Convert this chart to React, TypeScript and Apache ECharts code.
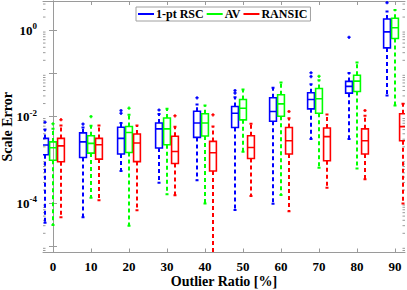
import React, { useEffect, useRef } from 'react';
import * as echarts from 'echarts';

// ---------- data ----------
const categories = [0, 10, 20, 30, 40, 50, 60, 70, 80, 90];
const yLabelExponents = [-4, -2, 0];
const seriesNames = ['1-pt RSC', 'AV', 'RANSIC'];

// each row: [lower whisker, Q1, median, Q3, upper whisker]
const rscBoxes = [
  [3.5e-5, 1.31e-3, 2.2e-3, 3.13e-3, 5.0e-3],
  [4.7e-5, 1.13e-3, 2.6e-3, 4.2e-3, 5.6e-3],
  [5.5e-4, 1.36e-3, 3.13e-3, 5.65e-3, 7.1e-3],
  [2.97e-4, 1.87e-3, 5.2e-3, 7.1e-3, 1.15e-2],
  [3.37e-4, 3.3e-3, 7.1e-3, 1.33e-2, 1.9e-2],
  [6.9e-5, 5.6e-3, 1.19e-2, 1.71e-2, 2.8e-2],
  [9.6e-5, 7.8e-3, 1.31e-2, 2.72e-2, 4.65e-2],
  [3.03e-3, 1.51e-2, 2.48e-2, 3.56e-2, 5.6e-2],
  [3.03e-3, 3.48e-2, 4.99e-2, 6.5e-2, 1.02e-1],
  [3.08e-2, 0.387, 0.91, 1.8, 2.67],
];
const avBoxes = [
  [3.1e-5, 9.8e-4, 1.9e-3, 2.6e-3, 5.2e-3],
  [1.33e-4, 1.43e-3, 2.4e-3, 3.6e-3, 6.1e-3],
  [3.0e-5, 1.48e-3, 4.3e-3, 5.9e-3, 1.1e-2],
  [1.6e-4, 2.23e-3, 5.2e-3, 9.3e-3, 1.51e-2],
  [9.8e-5, 3.56e-3, 7.1e-3, 1.16e-2, 1.8e-2],
  [1.53e-3, 8.4e-3, 1.56e-2, 2.48e-2, 4.2e-2],
  [1.53e-4, 1.02e-2, 1.97e-2, 3.2e-2, 6.1e-2],
  [6.6e-4, 1.19e-2, 2.58e-2, 4.45e-2, 6.9e-2],
  [6.3e-4, 3.81e-2, 6.6e-2, 9.0e-2, 0.177],
  [1.8e-2, 0.64, 1.13, 1.87, 2.92],
];
const ransicBoxes = [
  [4.7e-5, 9.0e-4, 2.1e-3, 3.13e-3, 6.2e-3],
  [1.17e-4, 1.04e-3, 2.23e-3, 3.13e-3, 6.2e-3],
  [6.8e-5, 9.1e-4, 2.44e-3, 3.96e-3, 6.2e-3],
  [1.51e-4, 8.2e-4, 1.56e-3, 3.5e-3, 5.8e-3],
  [3.0e-6, 5.5e-4, 1.46e-3, 2.67e-3, 5.9e-3],
  [1.46e-4, 1.07e-3, 1.93e-3, 3.6e-3, 6.8e-3],
  [6.5e-5, 1.36e-3, 2.77e-3, 5.6e-3, 9.2e-3],
  [2.27e-4, 9.5e-4, 3.43e-3, 5.46e-3, 1.11e-2],
  [3.56e-4, 1.36e-3, 2.77e-3, 5.2e-3, 1.05e-2],
  [9.8e-5, 2.77e-3, 5.85e-3, 1.16e-2, 1.97e-2],
];

// [category, value]
const rscOutliers = [
  [0, 7.4e-3], [10, 6.7e-3], [20, 1.38e-2], [20, 1.19e-2], [30, 1.42e-2],
  [40, 2.72e-2], [50, 4.0e-2], [50, 3.5e-2], [70, 0.103], [70, 8.4e-2],
  [80, 0.68], [90, 4.3],
];
const avOutliers = [
  [0, 6.8e-3], [10, 1.0e-2], [20, 1.56e-2], [70, 8.5e-2],
];
const ransicOutliers = [
  [0, 8.5e-3], [30, 1.04e-2], [40, 1.1e-2], [60, 1.31e-2], [80, 1.38e-2],
];

// ---------- styling ----------
const colors = ['#0000ff', '#00ff00', '#ff0000'];
const groupOffsets = [-2.1, 0, 2.1];
const FONT = '"Liberation Serif", "Times New Roman", serif';
const AXIS_COLOR = '#9a9a9a';
const X_MIN = -2.63;
const X_MAX = 92.63;
const Y_MIN = 7.2e-6;
const Y_MAX = 4.7;
const minorMultipliers = [2, 3, 4, 5, 6, 7, 8, 9];
const minorDecades = [-6, -5, -4, -3, -2, -1, 0];

function boxRenderer(color: string, offset: number) {
  return (params: any, api: any) => {
    const x = api.value(0) + offset;
    const pl = api.coord([x, api.value(1)]);
    const p1 = api.coord([x, api.value(2)]);
    const pm = api.coord([x, api.value(3)]);
    const p3 = api.coord([x, api.value(4)]);
    const ph = api.coord([x, api.value(5)]);
    const cx = pl[0];
    const hw = 3.4;
    const cap = 1.5;
    const dashed = { stroke: color, lineWidth: 2, lineDash: [4, 3], fill: null };
    const solid = { stroke: color, lineWidth: 1.6, fill: null };
    return {
      type: 'group',
      children: [
        { type: 'line', shape: { x1: cx, y1: p3[1], x2: cx, y2: ph[1] }, style: dashed },
        { type: 'line', shape: { x1: cx, y1: p1[1], x2: cx, y2: pl[1] }, style: dashed },
        { type: 'line', shape: { x1: cx - cap, y1: ph[1], x2: cx + cap, y2: ph[1] }, style: { ...solid, lineWidth: 2 } },
        { type: 'line', shape: { x1: cx - cap, y1: pl[1], x2: cx + cap, y2: pl[1] }, style: { ...solid, lineWidth: 2 } },
        {
          type: 'rect',
          shape: { x: cx - hw, y: p3[1], width: 2 * hw, height: p1[1] - p3[1] },
          style: { stroke: color, lineWidth: 1.6, fill: 'none' },
        },
        { type: 'line', shape: { x1: cx - hw, y1: pm[1], x2: cx + hw, y2: pm[1] }, style: solid },
      ],
    };
  };
}

function outlierRenderer(color: string, offset: number) {
  return (params: any, api: any) => {
    const p = api.coord([api.value(0) + offset, api.value(1)]);
    const s = 1.6;
    const st = { stroke: color, lineWidth: 1.5, fill: null };
    return {
      type: 'group',
      children: [
        { type: 'line', shape: { x1: p[0] - s, y1: p[1], x2: p[0] + s, y2: p[1] }, style: st },
        { type: 'line', shape: { x1: p[0], y1: p[1] - s, x2: p[0], y2: p[1] + s }, style: st },
      ],
    };
  };
}

function minorTickRenderer(params: any, api: any) {
  const p = api.coord([0, api.value(0)]);
  const cs = params.coordSys;
  const len = 2.5;
  const st = { stroke: AXIS_COLOR, lineWidth: 1, fill: null };
  return {
    type: 'group',
    children: [
      { type: 'line', shape: { x1: cs.x, y1: p[1], x2: cs.x + len, y2: p[1] }, style: st },
      { type: 'line', shape: { x1: cs.x + cs.width, y1: p[1], x2: cs.x + cs.width - len, y2: p[1] }, style: st },
    ],
  };
}

function yLabel(value: number) {
  const e = Math.log10(value);
  const r = Math.round(e);
  if (Math.abs(e - r) > 1e-6) return '';
  if (yLabelExponents.indexOf(r) < 0) return '';
  return '{b|10}{s|' + r + '}';
}

export default function App() {
  const ref = useRef<HTMLDivElement>(null);
  useEffect(() => {
    const chart = echarts.init(ref.current as HTMLDivElement, null, { renderer: 'svg' });

    const minorValues: number[][] = [];
    minorDecades.forEach((d) => {
      minorMultipliers.forEach((m) => {
        const v = m * Math.pow(10, d);
        if (v > Y_MIN && v < Y_MAX) minorValues.push([v]);
      });
    });

    const boxSets = [rscBoxes, avBoxes, ransicBoxes];
    const outSets = [rscOutliers, avOutliers, ransicOutliers];

    const series: any[] = [];
    seriesNames.forEach((name, i) => {
      series.push({
        type: 'custom',
        name,
        clip: true,
        itemStyle: { color: colors[i] },
        renderItem: boxRenderer(colors[i], groupOffsets[i]),
        encode: { x: 0, y: [1, 2, 3, 4, 5] },
        data: boxSets[i].map((b, k) => [categories[k], ...b]),
        z: 3,
      });
    });
    seriesNames.forEach((name, i) => {
      series.push({
        type: 'custom',
        name,
        clip: true,
        itemStyle: { color: colors[i] },
        renderItem: outlierRenderer(colors[i], groupOffsets[i]),
        encode: { x: 0, y: 1 },
        data: outSets[i],
        z: 3,
      });
    });
    series.push({
      type: 'custom',
      name: 'minor',
      silent: true,
      renderItem: minorTickRenderer,
      encode: { y: 0 },
      data: minorValues,
      z: 1,
    });

    const axisLine = { show: true, lineStyle: { color: AXIS_COLOR, width: 1 } };

    chart.setOption({
      animation: false,
      backgroundColor: '#ffffff',
      grid: { left: 43, right: 2, top: 1, bottom: 37.5, outerBoundsMode: 'none', containLabel: false },
      legend: {
        data: seriesNames.map((n, i) => ({ name: n, itemStyle: { color: colors[i] } })),
        left: 136,
        top: 7,
        orient: 'horizontal',
        icon: 'rect',
        itemWidth: 16,
        itemHeight: 2,
        itemGap: 3,
        padding: [1, 3, 1, 2],
        borderColor: '#a0a0a0',
        borderWidth: 1,
        borderRadius: 0,
        backgroundColor: '#ffffff',
        selectedMode: false,
        textStyle: { fontFamily: FONT, fontWeight: 'bold', fontSize: 12, color: '#000', padding: [0, 0, 0, -3] },
        z: 10,
      },
      xAxis: [
        {
          type: 'value',
          min: X_MIN,
          max: X_MAX,
          position: 'bottom',
          name: 'Outlier Ratio [%]',
          nameLocation: 'middle',
          nameGap: 22,
          nameMoveOverlap: false,
          nameTextStyle: { fontFamily: FONT, fontWeight: 'bold', fontSize: 14, color: '#000' },
          axisLine,
          axisTick: { show: true, inside: true, length: 4, customValues: categories, lineStyle: { color: AXIS_COLOR } },
          axisLabel: {
            show: true,
            customValues: categories,
            margin: 7,
            fontFamily: FONT,
            fontWeight: 'bold',
            fontSize: 13,
            color: '#000',
          },
          splitLine: { show: false },
        },
        {
          type: 'value',
          min: X_MIN,
          max: X_MAX,
          position: 'top',
          axisLine,
          axisTick: { show: true, inside: true, length: 4, customValues: categories, lineStyle: { color: AXIS_COLOR } },
          axisLabel: { show: false },
          splitLine: { show: false },
        },
      ],
      yAxis: [
        {
          type: 'log',
          logBase: 10,
          min: Y_MIN,
          max: Y_MAX,
          position: 'left',
          name: 'Scale Error',
          nameLocation: 'middle',
          nameGap: 29,
          nameMoveOverlap: false,
          nameTextStyle: { fontFamily: FONT, fontWeight: 'bold', fontSize: 14, color: '#000' },
          axisLine,
          axisTick: { show: true, inside: true, length: 4, lineStyle: { color: AXIS_COLOR } },
          axisLabel: {
            show: true,
            margin: 6,
            formatter: yLabel,
            showMinLabel: false,
            showMaxLabel: false,
            rich: {
              b: { fontFamily: FONT, fontWeight: 'bold', fontSize: 13, color: '#000' },
              s: { fontFamily: FONT, fontWeight: 'bold', fontSize: 9, color: '#000', padding: [0, 0, 8, 0] },
            },
          },
          splitLine: { show: false },
        },
        {
          type: 'log',
          logBase: 10,
          min: Y_MIN,
          max: Y_MAX,
          position: 'right',
          axisLine,
          axisTick: { show: true, inside: true, length: 4, lineStyle: { color: AXIS_COLOR } },
          axisLabel: { show: false },
          splitLine: { show: false },
        },
      ],
      series,
    });
    return () => chart.dispose();
  }, []);
  return <div ref={ref} style={{ position: 'absolute', left: 0, top: 0, width: 407, height: 290 }} />;
}
